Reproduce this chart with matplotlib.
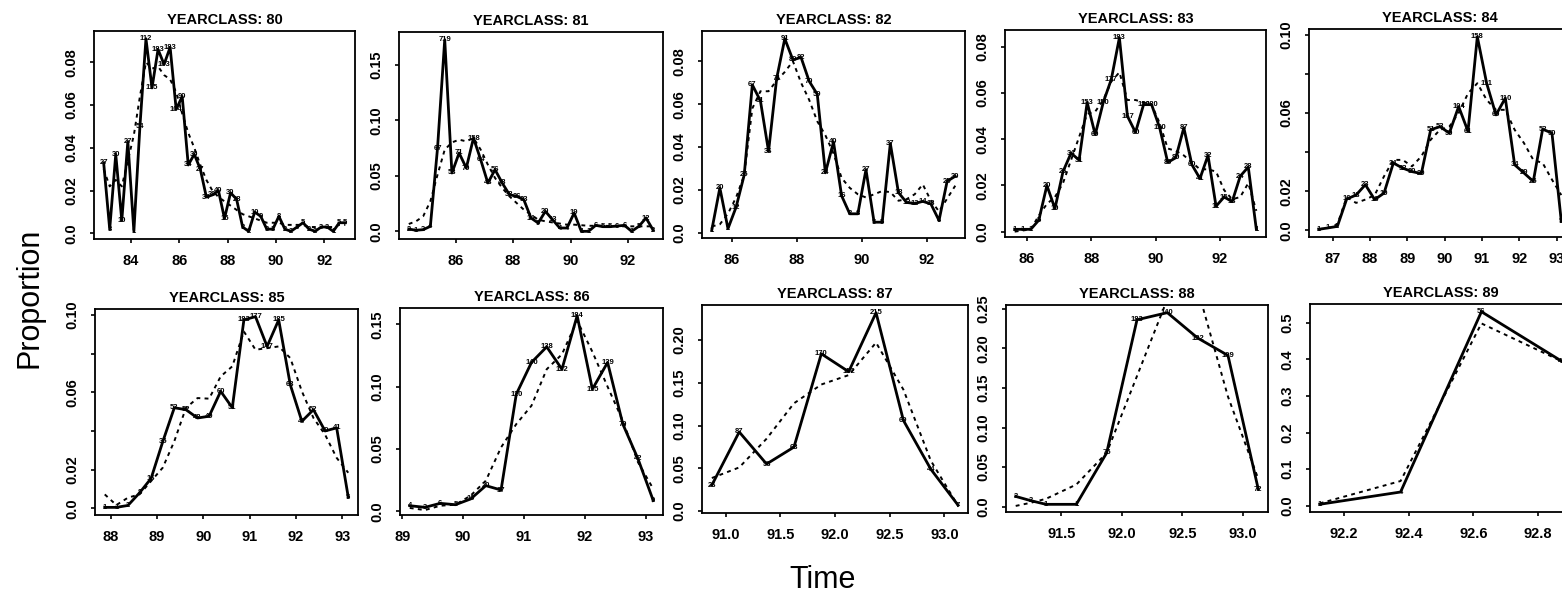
from matplotlib import pyplot as plt

plt.rcParams['font.family'] = ['Liberation Sans', 'DejaVu Sans']

W, H = 1562, 598

# sampling times (mid-quarter), observed proportion, fitted proportion, sample size
T80 = [82.875, 83.125, 83.375, 83.625, 83.875, 84.125, 84.375, 84.625, 84.875, 85.125,
       85.375, 85.625, 85.875, 86.125, 86.375, 86.625, 86.875, 87.125, 87.375, 87.625,
       87.875, 88.125, 88.375, 88.625, 88.875, 89.125, 89.375, 89.625, 89.875, 90.125,
       90.375, 90.625, 90.875, 91.125, 91.375, 91.625, 91.875, 92.125, 92.375, 92.625,
       92.875]
P80 = [0.033, 0.002, 0.037, 0.006, 0.043, 0.001, 0.050, 0.091, 0.068, 0.086,
       0.079, 0.087, 0.058, 0.064, 0.032, 0.037, 0.030, 0.017, 0.018, 0.020,
       0.007, 0.019, 0.016, 0.003, 0.001, 0.010, 0.008, 0.002, 0.002, 0.008,
       0.002, 0.001, 0.003, 0.005, 0.002, 0.001, 0.003, 0.003, 0.001, 0.005,
       0.005]
F80 = [0.030, 0.022, 0.025, 0.022, 0.034, 0.046, 0.064, 0.080, 0.077, 0.078,
       0.074, 0.072, 0.066, 0.056, 0.047, 0.040, 0.032, 0.025, 0.020, 0.017,
       0.015, 0.013, 0.011, 0.009, 0.008, 0.007, 0.006, 0.005, 0.005, 0.005,
       0.004, 0.004, 0.004, 0.004, 0.003, 0.003, 0.003, 0.003, 0.003, 0.004,
       0.004]
N80 = ['27', '3', '30', '10', '27', '1', '54', '112', '115', '183',
       '163', '183', '104', '90', '34', '30', '27', '34', '30', '40',
       '15', '30', '28', '3', '2', '10', '9', '3', '3', '8',
       '2', '2', '3', '5', '2', '2', '3', '3', '1', '5',
       '5']

T81 = [84.375, 84.625, 84.875, 85.125, 85.375, 85.625, 85.875, 86.125, 86.375, 86.625,
       86.875, 87.125, 87.375, 87.625, 87.875, 88.125, 88.375, 88.625, 88.875, 89.125,
       89.375, 89.625, 89.875, 90.125, 90.375, 90.625, 90.875, 91.125, 91.375, 91.625,
       91.875, 92.125, 92.375, 92.625, 92.875]
P81 = [0.002, 0.001, 0.0015, 0.0045, 0.075, 0.1725, 0.0525, 0.0705, 0.057, 0.084,
       0.0645, 0.0435, 0.0555, 0.0435, 0.033, 0.0315, 0.0285, 0.012, 0.0075, 0.018,
       0.0105, 0.003, 0.003, 0.0165, 0.0, 0.0, 0.0054, 0.0042, 0.0042, 0.0048,
       0.0054, 0.0, 0.0045, 0.012, 0.001]
F81 = [0.0066, 0.009, 0.0135, 0.027, 0.051, 0.0735, 0.080, 0.0825, 0.081, 0.084,
       0.0735, 0.060, 0.048, 0.039, 0.0315, 0.0255, 0.0195, 0.015, 0.0105, 0.009,
       0.008, 0.007, 0.006, 0.006, 0.0055, 0.005, 0.005, 0.005, 0.0048, 0.0046,
       0.0045, 0.0045, 0.0045, 0.0045, 0.0045]
N81 = ['2', '1', '2', '4', '67', '719', '58', '71', '70', '158',
       '64', '48', '56', '48', '38', '36', '33', '14', '9', '20',
       '13', '4', '4', '19', '1', '1', '6', '5', '5', '6',
       '6', '1', '5', '12', '2']

T82 = [85.375, 85.625, 85.875, 86.125, 86.375, 86.625, 86.875, 87.125, 87.375, 87.625,
       87.875, 88.125, 88.375, 88.625, 88.875, 89.125, 89.375, 89.625, 89.875, 90.125,
       90.375, 90.625, 90.875, 91.125, 91.375, 91.625, 91.875, 92.125, 92.375, 92.625,
       92.875]
P82 = [0.0012, 0.021, 0.002, 0.012, 0.027, 0.069, 0.0615, 0.038, 0.072, 0.0905,
       0.0806, 0.0818, 0.0707, 0.0646, 0.028, 0.0424, 0.0173, 0.0089, 0.0089, 0.0295,
       0.005, 0.005, 0.0417, 0.0188, 0.0142, 0.0137, 0.0147, 0.0135, 0.0058, 0.0241,
       0.0264]
F82 = [0.003, 0.004, 0.009, 0.0165, 0.027, 0.058, 0.066, 0.066, 0.071, 0.075,
       0.080, 0.070, 0.062, 0.052, 0.0455, 0.037, 0.0256, 0.021, 0.018, 0.0165,
       0.018, 0.0195, 0.019, 0.015, 0.0157, 0.018, 0.0226, 0.015, 0.010, 0.016,
       0.022]
N82 = ['1', '20', '2', '12', '25', '67', '61', '36', '71', '91',
       '80', '82', '70', '59', '24', '40', '16', '8', '8', '27',
       '5', '5', '37', '18', '13', '13', '14', '13', '6', '25',
       '30']

T83 = [85.625, 85.875, 86.125, 86.375, 86.625, 86.875, 87.125, 87.375, 87.625, 87.875,
       88.125, 88.375, 88.625, 88.875, 89.125, 89.375, 89.625, 89.875, 90.125, 90.375,
       90.625, 90.875, 91.125, 91.375, 91.625, 91.875, 92.125, 92.375, 92.625, 92.875,
       93.125]
P83 = [0.001, 0.001, 0.001, 0.005, 0.020, 0.010, 0.026, 0.034, 0.031, 0.056,
       0.042, 0.056, 0.066, 0.084, 0.050, 0.043, 0.055, 0.055, 0.045, 0.030,
       0.032, 0.045, 0.029, 0.023, 0.033, 0.011, 0.015, 0.013, 0.024, 0.028,
       0.001]
F83 = [0.0, 0.0005, 0.001, 0.007, 0.012, 0.015, 0.021, 0.031, 0.041, 0.051,
       0.052, 0.057, 0.065, 0.069, 0.057, 0.057, 0.056, 0.055, 0.047, 0.036,
       0.035, 0.033, 0.030, 0.027, 0.027, 0.026, 0.018, 0.014, 0.015, 0.021,
       0.009]
N83 = ['1', '1', '1', '5', '20', '10', '26', '34', '31', '153',
       '60', '150', '177', '183', '167', '60', '180', '180', '150', '80',
       '80', '87', '60', '41', '32', '11', '15', '13', '24', '28',
       '1']

T84 = [86.625, 86.875, 87.125, 87.375, 87.625, 87.875, 88.125, 88.375, 88.625, 88.875,
       89.125, 89.375, 89.625, 89.875, 90.125, 90.375, 90.625, 90.875, 91.125, 91.375,
       91.625, 91.875, 92.125, 92.375, 92.625, 92.875, 93.125]
P84 = [0.0005, 0.0012, 0.002, 0.016, 0.018, 0.0233, 0.0157, 0.019, 0.0344, 0.0318,
       0.030, 0.029, 0.0514, 0.053, 0.0497, 0.0633, 0.0506, 0.099, 0.0752, 0.059,
       0.0676, 0.0335, 0.0293, 0.025, 0.0517, 0.0497, 0.0046]
F84 = [0.0005, 0.0012, 0.003, 0.017, 0.014, 0.0157, 0.018, 0.0276, 0.036, 0.036,
       0.0327, 0.0378, 0.0463, 0.0514, 0.053, 0.060, 0.070, 0.0752, 0.0667, 0.0616,
       0.0616, 0.0514, 0.0446, 0.036, 0.0344, 0.0259, 0.018]
N84 = ['1', '1', '2', '16', '18', '23', '16', '19', '34', '32',
       '30', '29', '51', '53', '50', '104', '61', '158', '111', '60',
       '110', '34', '29', '25', '52', '50', '5']

T85 = [87.875, 88.125, 88.375, 88.625, 88.875, 89.125, 89.375, 89.625, 89.875, 90.125,
       90.375, 90.625, 90.875, 91.125, 91.375, 91.625, 91.875, 92.125, 92.375, 92.625,
       92.875, 93.125]
P85 = [0.0005, 0.0005, 0.0015, 0.008, 0.0155, 0.0344, 0.052, 0.051, 0.0467, 0.0476,
       0.0605, 0.052, 0.0974, 0.0991, 0.0837, 0.0974, 0.0639, 0.045, 0.051, 0.040,
       0.0416, 0.0058]
F85 = [0.0072, 0.0017, 0.0055, 0.0072, 0.0141, 0.021, 0.0347, 0.0519, 0.057, 0.0567,
       0.0682, 0.0734, 0.0914, 0.082, 0.0828, 0.0837, 0.0777, 0.0605, 0.0467, 0.0381,
       0.0261, 0.0184]
N85 = ['1', '1', '2', '8', '16', '35', '53', '52', '48', '49',
       '60', '51', '183', '177', '147', '185', '63', '47', '52', '40',
       '41', '5']

T86 = [89.125, 89.375, 89.625, 89.875, 90.125, 90.375, 90.625, 90.875, 91.125, 91.375,
       91.625, 91.875, 92.125, 92.375, 92.625, 92.875, 93.125]
P86 = [0.0045, 0.0032, 0.0064, 0.0053, 0.0099, 0.0206, 0.0171, 0.094, 0.1195, 0.132,
       0.114, 0.157, 0.098, 0.1195, 0.070, 0.042, 0.0086]
F86 = [0.0027, 0.001, 0.0045, 0.0053, 0.0126, 0.0246, 0.0513, 0.070, 0.0848, 0.114,
       0.126, 0.153, 0.128, 0.100, 0.0727, 0.0393, 0.018]
N86 = ['4', '3', '6', '5', '10', '20', '17', '110', '140', '138',
       '132', '184', '115', '129', '70', '42', '9']

T87 = [90.875, 91.125, 91.375, 91.625, 91.875, 92.125, 92.375, 92.625, 92.875, 93.125]
P87 = [0.0303, 0.0925, 0.055, 0.0748, 0.1839, 0.163, 0.232, 0.106, 0.049, 0.0067]
F87 = [0.0386, 0.051, 0.0846, 0.126, 0.148, 0.159, 0.197, 0.142, 0.059, 0.006]
N87 = ['26', '87', '56', '63', '170', '152', '215', '69', '44', '7']

T88 = [91.125, 91.25, 91.375, 91.625, 91.875, 92.125, 92.375, 92.625, 92.875, 93.125]
P88 = [0.013, 0.0076, 0.003, 0.003, 0.068, 0.236, 0.245, 0.213, 0.191, 0.022]
F88 = [0.001, 0.005, 0.010, 0.028, 0.068, 0.165, 0.262, 0.275, 0.139, 0.035]
N88 = ['3', '2', '1', '1', '75', '183', '140', '132', '109', '72']

T89 = [92.125, 92.375, 92.625, 92.875]
P89 = [0.0045, 0.038, 0.530, 0.394]
F89 = [0.007, 0.068, 0.498, 0.394]
N89 = ['1', '4', '56', '41']

YEARCLASSES = [80, 81, 82, 83, 84, 85, 86, 87, 88, 89]

XTICKS = {
    80: [84, 86, 88, 90, 92], 81: [86, 88, 90, 92], 82: [86, 88, 90, 92],
    83: [86, 88, 90, 92], 84: [87, 88, 89, 90, 91, 92, 93],
    85: [88, 89, 90, 91, 92, 93], 86: [89, 90, 91, 92, 93],
    87: [91.0, 91.5, 92.0, 92.5, 93.0], 88: [91.5, 92.0, 92.5, 93.0],
    89: [92.2, 92.4, 92.6, 92.8],
}
XLABELS = {
    80: ['84', '86', '88', '90', '92'], 81: ['86', '88', '90', '92'],
    82: ['86', '88', '90', '92'], 83: ['86', '88', '90', '92'],
    84: ['87', '88', '89', '90', '91', '92', '93'],
    85: ['88', '89', '90', '91', '92', '93'], 86: ['89', '90', '91', '92', '93'],
    87: ['91.0', '91.5', '92.0', '92.5', '93.0'], 88: ['91.5', '92.0', '92.5', '93.0'],
    89: ['92.2', '92.4', '92.6', '92.8'],
}
YTICKS = {
    80: [0.0, 0.02, 0.04, 0.06, 0.08], 81: [0.0, 0.05, 0.10, 0.15],
    82: [0.0, 0.02, 0.04, 0.06, 0.08], 83: [0.0, 0.02, 0.04, 0.06, 0.08],
    84: [0.0, 0.02, 0.04, 0.06, 0.08, 0.10], 85: [0.0, 0.02, 0.04, 0.06, 0.08, 0.10],
    86: [0.0, 0.05, 0.10, 0.15], 87: [0.0, 0.05, 0.10, 0.15, 0.20],
    88: [0.0, 0.05, 0.10, 0.15, 0.20, 0.25], 89: [0.0, 0.1, 0.2, 0.3, 0.4, 0.5],
}
YLABELS = {
    80: ['0.0', '0.02', '0.04', '0.06', '0.08'], 81: ['0.0', '0.05', '0.10', '0.15'],
    82: ['0.0', '0.02', '0.04', '0.06', '0.08'], 83: ['0.0', '0.02', '0.04', '0.06', '0.08'],
    84: ['0.0', '0.02', '', '0.06', '', '0.10'], 85: ['0.0', '0.02', '', '0.06', '', '0.10'],
    86: ['0.0', '0.05', '0.10', '0.15'], 87: ['0.0', '0.05', '0.10', '0.15', '0.20'],
    88: ['0.0', '0.05', '0.10', '0.15', '0.20', '0.25'],
    89: ['0.0', '0.1', '0.2', '0.3', '0.4', '0.5'],
}

# panel boxes in pixels: left, top, right, bottom
BOXES = [
    (94, 31, 355, 239), (399, 32, 663, 239), (702, 31, 965, 238),
    (1005, 30, 1266, 237), (1309, 29, 1571, 237),
    (95, 309, 358, 515), (400, 308, 663, 515), (702, 305, 968, 513),
    (1006, 305, 1268, 512), (1310, 304, 1572, 512),
]


def padded(vals, frac=0.04):
    lo, hi = min(vals), max(vals)
    d = (hi - lo) * frac
    return lo - d, hi + d


def draw_panel(fig, box, yc, t, p, f, n):
    l, tp, r, b = box
    ax = fig.add_axes([l / W, 1 - b / H, (r - l) / W, (b - tp) / H])
    ax.plot(t, f, color='black', lw=1.4, ls=(0, (2, 2.2)))
    ax.plot(t, p, color='black', lw=2.0)
    for x, y, s in zip(t, p, n):
        ax.text(x, y, s, fontsize=5.5, fontweight='bold', ha='center', va='center', clip_on=True)

    ax.set_xlim(*padded(t))
    ax.set_ylim(*padded(p))
    ax.set_xticks(XTICKS[yc], XLABELS[yc])
    ax.set_yticks(YTICKS[yc], YLABELS[yc])
    ax.tick_params(direction='out', length=3, width=1.2, pad=8, labelsize=10.5)
    ax.tick_params(axis='y', labelrotation=90)
    for lab in ax.get_xticklabels() + ax.get_yticklabels():
        lab.set_fontweight('bold')
    for lab in ax.get_yticklabels():
        lab.set_va('center')
    for sp in ax.spines.values():
        sp.set_linewidth(1.3)
    ax.set_title(f'YEARCLASS: {yc}', fontsize=10.5, fontweight='bold', pad=5)
    return ax


def main():
    fig = plt.figure(figsize=(W / 100, H / 100), dpi=100)
    series = {
        80: (T80, P80, F80, N80), 81: (T81, P81, F81, N81), 82: (T82, P82, F82, N82),
        83: (T83, P83, F83, N83), 84: (T84, P84, F84, N84), 85: (T85, P85, F85, N85),
        86: (T86, P86, F86, N86), 87: (T87, P87, F87, N87), 88: (T88, P88, F88, N88),
        89: (T89, P89, F89, N89),
    }
    for box, yc in zip(BOXES, YEARCLASSES):
        draw_panel(fig, box, yc, *series[yc])

    fig.text(30 / W, 1 - 298 / H, 'Proportion', rotation=90, fontsize=22,
             ha='center', va='center')
    fig.text(823 / W, 1 - 580 / H, 'Time', fontsize=22, ha='center', va='center')
    fig.savefig('out.png', dpi=100, facecolor='white')


if __name__ == '__main__':
    main()
